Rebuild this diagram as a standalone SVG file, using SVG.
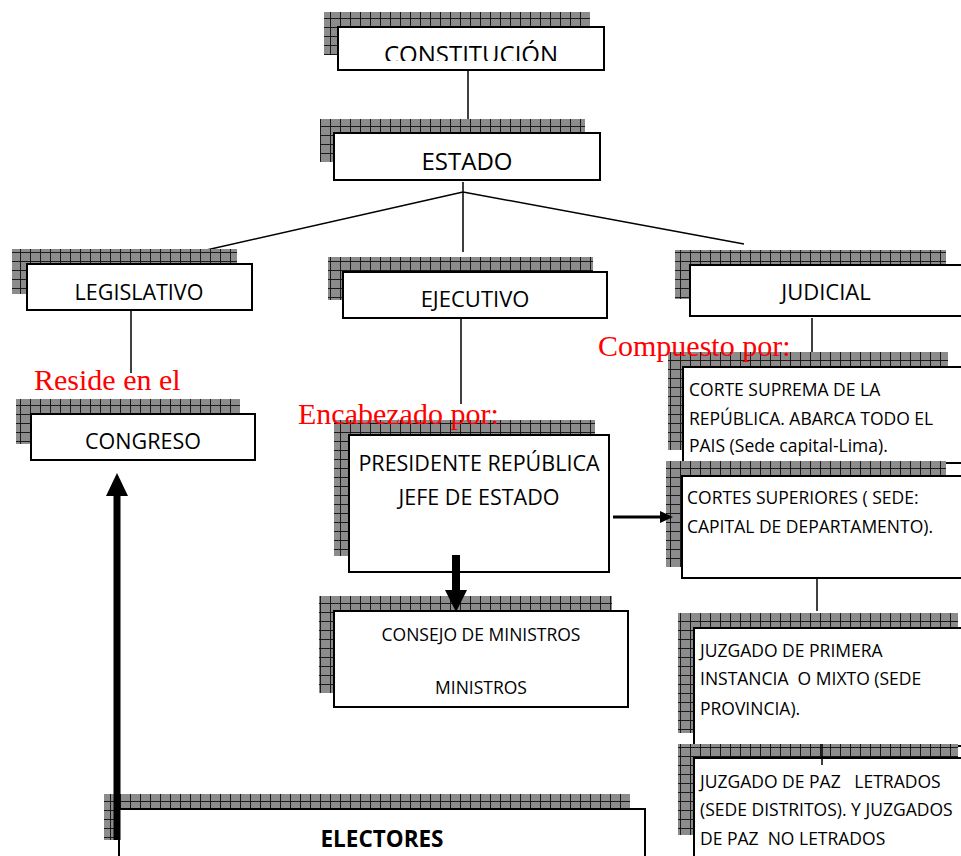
<svg xmlns="http://www.w3.org/2000/svg" width="961" height="856" viewBox="0 0 961 856">
<defs>
<pattern id="grid" width="10" height="9" patternUnits="userSpaceOnUse">
<rect width="10" height="9" fill="#8c8c8c"/>
<path d="M0 0.5H10M0.5 0V9" stroke="#1a1a1a" stroke-width="1"/>
</pattern>
<clipPath id="clipC"><rect x="338" y="27" width="266" height="34"/></clipPath>
</defs>
<style>
.sh{fill:url(#grid)}
.bx{fill:#fff;stroke:#000;stroke-width:2}
.t{font-family:"Open Sans","Noto Sans",sans-serif;fill:#000;white-space:pre}
.s{font-size:17.5px}
.c{text-anchor:middle}
.r{font-family:"Liberation Serif",serif;fill:#f00;font-size:30px}
.ln{stroke:#000;stroke-width:1.5;fill:none}
</style>
<rect width="961" height="856" fill="#fff"/>
<g id="connectors">
<path class="ln" d="M468 70V120"/>
<path class="ln" d="M463 192L202 251M463 192L744 244M463 182V252"/>
<path class="ln" d="M131 310V373"/>
<path class="ln" d="M461 318V404"/>
<path class="ln" d="M812 318V352"/>
<path class="ln" d="M817 578V611"/>
</g>
<g id="constitucion">
<rect class="sh" x="324" y="12" width="266" height="43"/>
<rect class="bx" x="338" y="27" width="266" height="43"/>
<text class="t c" x="471" y="63" font-size="24" clip-path="url(#clipC)">CONSTITUCIÓN</text>
</g>
<g id="estado">
<rect class="sh" x="320" y="119" width="265" height="43"/>
<rect class="bx" x="334" y="133" width="266" height="47"/>
<text class="t c" x="467" y="170" font-size="24">ESTADO</text>
</g>
<g id="legislativo">
<rect class="sh" x="12" y="249" width="225" height="45"/>
<rect class="bx" x="27" y="264" width="225" height="46"/>
<text class="t c" x="139" y="300" font-size="21.5">LEGISLATIVO</text>
</g>
<g id="congreso">
<rect class="sh" x="16" y="399" width="224" height="45"/>
<rect class="bx" x="31" y="414" width="224" height="46"/>
<text class="t c" x="143" y="449" font-size="21.5">CONGRESO</text>
</g>
<g id="ejecutivo">
<rect class="sh" x="328" y="257" width="265" height="43"/>
<rect class="bx" x="343" y="272" width="264" height="46"/>
<text class="t c" x="475" y="307" font-size="22">EJECUTIVO</text>
</g>
<g id="presidente">
<rect class="sh" x="334" y="420" width="261" height="136"/>
<rect class="bx" x="349" y="435" width="260" height="137"/>
<text class="t c" x="479" y="471" font-size="21.5">PRESIDENTE REPÚBLICA</text>
<text class="t c" x="479" y="505" font-size="21.5">JEFE DE ESTADO</text>
</g>
<g id="consejo">
<rect class="sh" x="319" y="596" width="293" height="97"/>
<rect class="bx" x="334" y="611" width="294" height="96"/>
<text class="t c" x="481" y="641" font-size="17.5">CONSEJO DE MINISTROS</text>
<text class="t c" x="481" y="694" font-size="17.5">MINISTROS</text>
</g>
<g id="judicial">
<rect class="sh" x="675" y="250" width="271" height="49"/>
<rect class="bx" x="690" y="265" width="275" height="51"/>
<text class="t c" x="826" y="300" font-size="22">JUDICIAL</text>
</g>
<g id="corte-suprema">
<rect class="sh" x="668" y="352" width="280" height="98"/>
<rect class="bx" x="683" y="367" width="285" height="96"/>
<text class="t s" x="689" y="396">CORTE SUPREMA DE LA</text>
<text class="t s" x="689" y="425">REPÚBLICA. ABARCA TODO EL</text>
<text class="t s" x="689" y="452">PAIS (Sede capital-Lima).</text>
</g>
<g id="cortes-superiores">
<rect class="sh" x="666" y="461" width="280" height="106"/>
<rect class="bx" x="682" y="476" width="285" height="102"/>
<text class="t s" x="687" y="504">CORTES SUPERIORES ( SEDE:</text>
<text class="t s" x="687" y="533">CAPITAL DE DEPARTAMENTO).</text>
</g>
<g id="juzgado-primera">
<rect class="sh" x="678" y="613" width="280" height="120"/>
<rect class="bx" x="694" y="628" width="275" height="118"/>
<text class="t s" x="700" y="657">JUZGADO DE PRIMERA</text>
<text class="t s" x="700" y="685" xml:space="preserve">INSTANCIA  O MIXTO (SEDE</text>
<text class="t s" x="700" y="715">PROVINCIA).</text>
</g>
<g id="juzgado-paz">
<rect class="sh" x="678" y="744" width="280" height="91"/>
<rect class="bx" x="694" y="758" width="275" height="105"/>
<text class="t s" x="700" y="788" xml:space="preserve">JUZGADO DE PAZ   LETRADOS</text>
<text class="t s" x="700" y="816">(SEDE DISTRITOS). Y JUZGADOS</text>
<text class="t s" x="700" y="845" xml:space="preserve">DE PAZ  NO LETRADOS</text>
</g>
<g id="electores">
<rect class="sh" x="104" y="794" width="526" height="46"/>
<rect class="bx" x="119" y="809" width="526" height="60"/>
<text class="t c" x="382" y="847" font-size="22.5" font-weight="bold">ELECTORES</text>
</g>
<g id="labels">
<text class="r" x="34" y="390">Reside en el</text>
<text class="r" x="298" y="424">Encabezado por:</text>
<text class="r" x="598" y="356">Compuesto por:</text>
</g>
<g id="arrows">
<path class="ln" d="M822 744V765"/>
<path d="M613 517H662" stroke="#000" stroke-width="3"/>
<path d="M660 511L673 517L660 523Z" fill="#000"/>
<path d="M456 555V592" stroke="#000" stroke-width="8"/>
<path d="M445 590L456 612L467 590Z" fill="#000"/>
<path d="M117 840V494" stroke="#000" stroke-width="7"/>
<path d="M106 496L117 473L128 496Z" fill="#000"/>
</g>
</svg>
